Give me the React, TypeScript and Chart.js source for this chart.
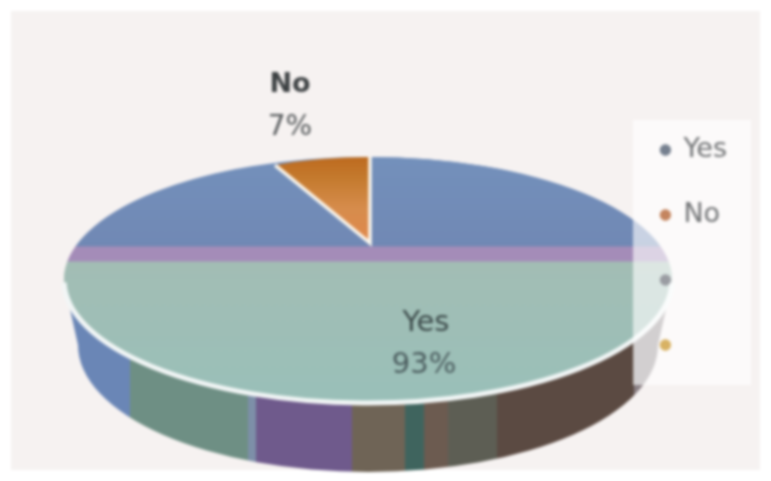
import React, { useEffect, useRef } from "react";
import { Chart, registerables } from "chart.js";

Chart.register(...registerables);

const categories = ["Yes", "No", "", ""];
const values = [93, 7, 0, 0];
const legendColors = ["#76808f", "#c4855f", "#9a9ca2", "#d8b264"];

// Where the pie's drawn geometry is mapped to in the picture (a tilted 3-D look).
const TOP = { cx: 368, cy: 280, rx: 304, ry: 123 };
const WALL = { cx: 368, cy: 345, rx: 290, ry: 127 };
const WEDGE = { x: 370, y: 243, rx: 223, ry: 86 };
const wallStops: [number, number, string][] = [
  [60, 130, "#6a86b6"],
  [130, 248, "#6e8f84"],
  [248, 256, "#7d8fa8"],
  [256, 352, "#6f5a8c"],
  [352, 405, "#6f6456"],
  [405, 424, "#3f645e"],
  [424, 448, "#6c5b50"],
  [448, 497, "#5d5e54"],
  [497, 634, "#5b4a42"],
  [634, 680, "#8a8084"],
];

function surfaceGradient(ctx: CanvasRenderingContext2D, yc: number, R: number) {
  const g = ctx.createLinearGradient(0, yc - R, 0, yc + R);
  const t = (y: number) => (y - (TOP.cy - TOP.ry)) / (2 * TOP.ry);
  g.addColorStop(0, "#7390bb");
  g.addColorStop(t(246), "#7088b4");
  g.addColorStop(t(247), "#a48cb8");
  g.addColorStop(t(261), "#a48cb8");
  g.addColorStop(t(262), "#a2bdb4");
  g.addColorStop(1, "#99bfb8");
  return g;
}

const piePlugin = {
  id: "tiltedPie",
  beforeDraw(chart: any) {
    const { ctx, width, height } = chart;
    ctx.save();
    ctx.fillStyle = "#ffffff";
    ctx.fillRect(0, 0, width, height);
    ctx.fillStyle = "#f6f2f1";
    ctx.fillRect(11, 11, width - 22, height - 22);
    ctx.restore();
  },
  beforeDatasetDraw(chart: any) {
    const { ctx } = chart;
    const [yes, no] = chart.getDatasetMeta(0).data;
    const R = yes.outerRadius;

    // side wall
    const wg = ctx.createLinearGradient(60, 0, 680, 0);
    wallStops.forEach(([a, b, c]) => {
      wg.addColorStop((a - 60) / 620, c);
      wg.addColorStop((b - 60) / 620 - 0.0001, c);
    });
    ctx.save();
    ctx.fillStyle = wg;
    ctx.beginPath();
    ctx.moveTo(68, 300);
    ctx.lineTo(WALL.cx - WALL.rx, WALL.cy);
    ctx.ellipse(WALL.cx, WALL.cy, WALL.rx, WALL.ry, 0, Math.PI, 0, true);
    ctx.lineTo(668, 300);
    ctx.closePath();
    ctx.fill();
    ctx.restore();

    // top surface
    ctx.save();
    ctx.translate(TOP.cx, TOP.cy);
    ctx.scale(TOP.rx / R, TOP.ry / R);
    ctx.translate(-yes.x, -yes.y);
    ctx.fillStyle = surfaceGradient(ctx, yes.y, R);
    ctx.beginPath();
    ctx.arc(yes.x, yes.y, R, 0, Math.PI * 2);
    ctx.fill();
    yes.draw(ctx);
    ctx.restore();

    // rim
    ctx.save();
    ctx.strokeStyle = "#f2f6f6";
    ctx.lineWidth = 5;
    ctx.beginPath();
    ctx.ellipse(TOP.cx, TOP.cy, TOP.rx, TOP.ry, 0, 0.02, Math.PI - 0.02);
    ctx.stroke();
    ctx.restore();

    // small slice, its tip sits above the ellipse's centre
    ctx.save();
    ctx.translate(WEDGE.x, WEDGE.y);
    ctx.scale(WEDGE.rx / R, WEDGE.ry / R);
    ctx.translate(-no.x, -no.y);
    no.draw(ctx);
    ctx.restore();

    const px = (a: number) => WEDGE.x + WEDGE.rx * Math.cos(a);
    const py = (a: number) => WEDGE.y + WEDGE.ry * Math.sin(a);
    ctx.save();
    ctx.strokeStyle = "#fbf7ee";
    ctx.lineWidth = 3.5;
    ctx.beginPath();
    ctx.moveTo(px(no.startAngle), py(no.startAngle));
    ctx.lineTo(WEDGE.x, WEDGE.y);
    ctx.lineTo(px(no.endAngle), py(no.endAngle));
    ctx.stroke();
    ctx.restore();
    return false;
  },
  afterDatasetsDraw(chart: any) {
    const { ctx } = chart;
    ctx.save();
    ctx.fillStyle = "rgba(255,255,255,0.62)";
    ctx.fillRect(633, 120, 118, 265);
    ctx.restore();
    chart.legend.draw(chart.chartArea);

    ctx.save();
    ctx.textAlign = "center";
    ctx.textBaseline = "middle";
    ctx.fillStyle = "#3d4143";
    ctx.font = "bold 27px 'DejaVu Sans'";
    ctx.fillText(categories[1], 290, 85);
    ctx.font = "28px 'DejaVu Sans'";
    ctx.fillStyle = "#54585a";
    ctx.fillText(values[1] + "%", 290, 128);
    ctx.fillStyle = "#3c4a4a";
    ctx.font = "29px 'DejaVu Sans'";
    ctx.fillText(categories[0], 426, 323);
    ctx.fillStyle = "#4b5c5e";
    ctx.fillText(values[0] + "%", 424, 365);
    ctx.restore();
  },
};

export default function App() {
  const ref = useRef<HTMLCanvasElement>(null);
  useEffect(() => {
    if (!ref.current) return;
    const chart = new Chart(ref.current, {
      type: "pie",
      data: {
        labels: categories,
        datasets: [
          {
            data: values,
            borderWidth: 0,
            backgroundColor: (c: any) => {
              const area = c.chart.chartArea;
              if (c.dataIndex === 1) {
                const cy = area ? (area.top + area.bottom) / 2 : 0;
                const R = area ? Math.min(area.right - area.left, area.bottom - area.top) / 2 : 1;
                const g = c.chart.ctx.createLinearGradient(0, cy - R, 0, cy);
                g.addColorStop(0, "#bd6a1e");
                g.addColorStop(0.25, "#c47a2e");
                g.addColorStop(0.6, "#d68c4c");
                g.addColorStop(1, "#e0884c");
                return g;
              }
              if (!area) return legendColors[c.dataIndex];
              const cy = (area.top + area.bottom) / 2;
              const R = Math.min(area.right - area.left, area.bottom - area.top) / 2;
              return surfaceGradient(c.chart.ctx, cy, R);
            },
          },
        ],
      },
      options: {
        responsive: false,
        animation: false,
        layout: { padding: { top: 14, right: 34 } },
        plugins: {
          tooltip: { enabled: false },
          legend: {
            position: "right",
            labels: {
              color: "#747678",
              font: { family: "'DejaVu Sans'", size: 27 },
              usePointStyle: true,
              boxWidth: 9,
              boxHeight: 8,
              padding: 38,
              generateLabels: () =>
                categories.map((text, index) => ({
                  text,
                  index,
                  fontColor: "#747678",
                  fillStyle: legendColors[index],
                  strokeStyle: legendColors[index],
                  lineWidth: 0,
                  pointStyle: "circle",
                  hidden: false,
                })),
            },
          },
        },
      },
      plugins: [piePlugin],
    } as any);
    return () => chart.destroy();
  }, []);
  return (
    <div style={{ position: "absolute", left: 0, top: 0, width: 771, height: 481, overflow: "hidden" }}>
      <canvas ref={ref} width={771} height={481} style={{ display: "block", filter: "blur(1.6px)" }} />
    </div>
  );
}
